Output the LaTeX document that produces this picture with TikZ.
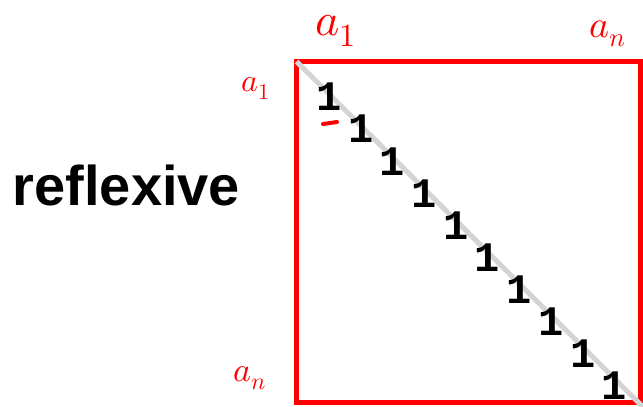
\documentclass[tikz,border=0pt]{standalone}
\usepackage{fontspec}
\usepackage{unicode-math}
\setmainfont{Liberation Sans}
\newfontfamily\digitfont{Liberation Mono}
\usetikzlibrary{calc}
\definecolor{inkred}{RGB}{255,0,0}
\definecolor{diaggray}{RGB}{212,212,212}
\tikzset{hand/.style={inkred,inner sep=0pt},
 entry/.style={font=\digitfont\bfseries\fontsize{42}{42}\selectfont,inner sep=0pt}}
\begin{document}
\begin{tikzpicture}[x=1pt,y=-1pt,frame/.style={draw=inkred,line width=4.5pt,inner sep=0pt,outer sep=0pt}]
\useasboundingbox (0,0) rectangle (643,407);
\node[font=\bfseries\fontsize{56}{56}\selectfont,anchor=base] (title) at (126.5,205) {reflexive};
\node[frame,minimum width=344pt,minimum height=341pt] (M) at (468.5,232) {};
\coordinate (corner) at (643,407);
\draw[diaggray,line width=5pt] (M.north west) -- (corner);
% diagonal entries
\foreach \i in {0,...,9}
  \node[entry] (one\i) at ({329+31.7*\i},{97+32.1*\i}) {1};
\draw[inkred,line width=4pt,line cap=round] (323,124) -- (337,122);
% handwritten row and column labels
\node[hand,font=\fontsize{46}{46}\selectfont] (colfirst) at (336,31) {$a_1$};
\node[hand,font=\fontsize{38}{38}\selectfont] (collast) at (608,34) {$a_n$};
\node[hand,font=\fontsize{32}{32}\selectfont] (rowfirst) at (256,88) {$a_1$};
\node[hand,font=\fontsize{34}{34}\selectfont] (rowlast) at (250,378) {$a_n$};
\end{tikzpicture}
\end{document}
